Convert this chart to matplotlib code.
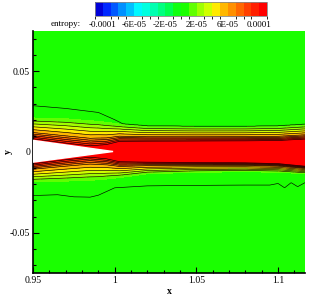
import numpy as np
import matplotlib
matplotlib.use("Agg")
import matplotlib.pyplot as plt
from matplotlib.colors import ListedColormap, BoundaryNorm
from matplotlib.ticker import MultipleLocator

plt.rcParams['font.family'] = ['Liberation Serif', 'DejaVu Serif']

# ---- data ----
levels = np.arange(-11, 12) * 1e-5
band_colors = ['#0000d8', '#0028ff', '#0058ff', '#0090ff', '#00c0ff', '#00f8ff',
               '#00ffe0', '#00ffb0', '#00ff80', '#00ff50', '#10ff10', '#1aff00',
               '#60ff00', '#a0ff00', '#d0ff00', '#ffea00', '#ffb800', '#ff9000',
               '#ff6800', '#ff4000', '#ff2000', '#ff0000']
cbar_ticks = [-1e-4, -6e-5, -2e-5, 2e-5, 6e-5, 1e-4]
cbar_labels = ['-0.0001', '-6E-05', '-2E-05', '2E-05', '6E-05', '0.0001']
line_levels = [0.5e-5, 2e-5, 3e-5, 4e-5, 5e-5, 6e-5, 7e-5, 8e-5, 9e-5, 10e-5]

# wedge (white body)
wedge_x = [0.95, 0.999, 0.95]
wedge_y = [0.0072, 0.0003, -0.0063]

# red core edges
core_x = [0.95, 0.97, 0.985, 0.995, 1.003, 1.02, 1.05, 1.08, 1.10, 1.1165]
core_up = [0.0082, 0.0055, 0.0038, 0.0046, 0.0066, 0.0067, 0.0068, 0.0069, 0.0071, 0.0080]
core_lo = [-0.0073, -0.0048, -0.0032, -0.0042, -0.0060, -0.0063, -0.0065, -0.0067, -0.0072, -0.0088]

# outer edge of the dense contour band
dense_x = [0.95, 0.97, 0.99, 1.005, 1.02, 1.05, 1.08, 1.10, 1.1165]
dense_up = [0.0210, 0.0205, 0.0190, 0.0170, 0.0158, 0.0155, 0.0155, 0.0158, 0.0168]
dense_lo = [-0.0185, -0.0180, -0.0172, -0.0155, -0.0135, -0.0125, -0.0122, -0.0125, -0.0135]

# outermost contour line
outer_up_x = [0.95, 0.97, 0.99, 1.0, 1.005]
outer_up = [0.0287, 0.0270, 0.0245, 0.0200, 0.0174]
outer_lo_x = [0.95, 0.965, 0.975, 0.985, 0.99, 1.0, 1.02, 1.05, 1.08, 1.095, 1.10, 1.104, 1.108, 1.112, 1.1165]
outer_lo = [-0.0270, -0.0265, -0.0278, -0.0280, -0.0268, -0.0222, -0.0210, -0.0207, -0.0205,
            -0.0205, -0.0195, -0.0222, -0.0190, -0.0215, -0.0190]

# profile values across the shear layer (outer -> core)
prof_vals = np.array([0.2, 0.2, 0.5, 1.0, 6.0, 10.0, 10.8]) * 1e-5

# ---- build field ----
xg = np.linspace(0.95, 1.1165, 500)
yg = np.linspace(-0.075, 0.075, 700)
S = np.zeros((len(yg), len(xg)))
for j, xv in enumerate(xg):
    cu = np.interp(xv, core_x, core_up)
    cl = np.interp(xv, core_x, core_lo)
    du = np.interp(xv, dense_x, dense_up)
    dl = np.interp(xv, dense_x, dense_lo)
    if xv <= outer_up_x[-1]:
        ou = np.interp(xv, outer_up_x, outer_up)
    else:
        ou = du + 0.0004
    ou = max(ou, du + 0.0004)
    ol = min(np.interp(xv, outer_lo_x, outer_lo), dl - 0.0004)
    mu = cu + 0.3 * (du - cu)
    ml = cl + 0.3 * (dl - cl)
    ys = [-0.08, ol - 0.004, ol, dl, ml, cl, cl + 0.0004,
          cu - 0.0004, cu, mu, du, ou, ou + 0.004, 0.08]
    vs = np.concatenate([prof_vals, prof_vals[::-1]])
    S[:, j] = np.interp(yg, ys, vs)

X, Y = np.meshgrid(xg, yg)

cmap = ListedColormap(band_colors)
norm = BoundaryNorm(levels, cmap.N)

fig = plt.figure(figsize=(3.32, 2.96), dpi=100)
ax = fig.add_axes([0.0994, 0.0777, 0.8193, 0.8176])
cf = ax.contourf(X, Y, S, levels=levels, cmap=cmap, norm=norm)
ax.contour(X, Y, S, levels=line_levels, colors='k', linewidths=0.45)
ax.fill(wedge_x, wedge_y, color='white', zorder=3)

ax.set_xlim(0.95, 1.1165)
ax.set_ylim(-0.075, 0.075)
ax.set_xticks([0.95, 1.0, 1.05, 1.1])
ax.set_xticklabels(['0.95', '1', '1.05', '1.1'])
ax.set_yticks([-0.05, 0, 0.05])
ax.set_yticklabels(['-0.05', '0', '0.05'])
ax.xaxis.set_minor_locator(MultipleLocator(0.01))
ax.yaxis.set_minor_locator(MultipleLocator(0.01))
ax.tick_params(which='both', direction='in', labelsize=7, width=0.8, pad=2)
ax.tick_params(which='major', length=4)
ax.tick_params(which='minor', length=2)
ax.tick_params(top=False, right=False, which='both')
for s in ['top', 'right']:
    ax.spines[s].set_visible(False)
for s in ['left', 'bottom']:
    ax.spines[s].set_linewidth(1.2)
ax.set_xlabel('x', fontsize=7, fontweight='bold')
ax.xaxis.label.set_va('center')
ax.xaxis.set_label_coords(0.5, -0.077)
ax.set_ylabel('y', fontsize=7, fontweight='bold')
ax.yaxis.set_label_coords(-0.075, 0.5)

cax = fig.add_axes([0.2861, 0.9459, 0.518, 0.0473])
cb = fig.colorbar(cf, cax=cax, orientation='horizontal', ticks=cbar_ticks)
cb.set_ticklabels(cbar_labels)
cb.ax.tick_params(length=0, labelsize=6.5, pad=3.5)
cb.outline.set_edgecolor('#888888')
cb.outline.set_linewidth(0.6)
fig.text(0.153, 1 - 24 / 296, 'entropy:', fontsize=6.5, va='center', ha='left')

fig.savefig('out.png', dpi=100)
